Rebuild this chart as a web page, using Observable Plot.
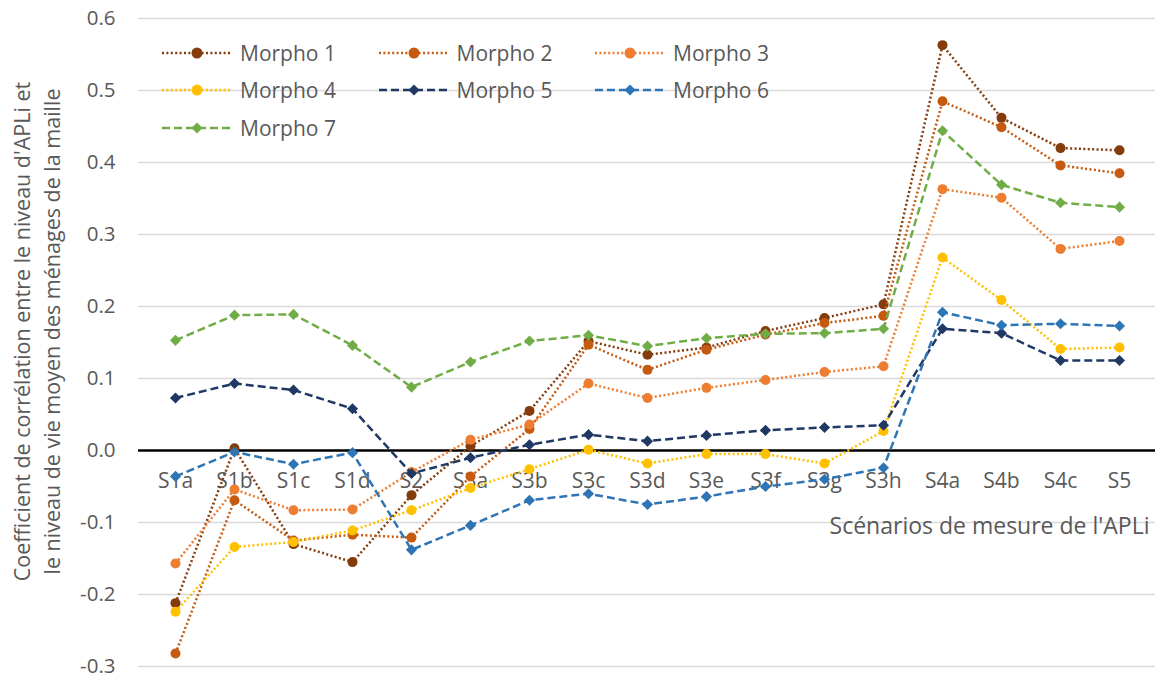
<!DOCTYPE html>
<html>
<head>
<meta charset="utf-8">
<script src="https://cdn.jsdelivr.net/npm/d3@7"></script>
<script src="https://cdn.jsdelivr.net/npm/@observablehq/plot@0.6"></script>
<style>
  body { margin: 0; background: #fff; }
  #wrap { position: relative; width: 1160px; height: 675px; font-family: "Open Sans", sans-serif; }
  #legend { position: absolute; left: 162px; top: 34px; display: grid; grid-template-columns: 216.5px 216.5px 216.5px; grid-auto-rows: 37.5px; }
  .item { display: flex; align-items: center; height: 37.5px; color: #595959; font-size: 21px; }
  .item svg { margin-right: 8px; flex: none; }
</style>
</head>
<body>
<div id="wrap"><div id="legend"></div></div>
<script>
const categories = ["S1a","S1b","S1c","S1d","S2","S3a","S3b","S3c","S3d","S3e","S3f","S3g","S3h","S4a","S4b","S4c","S5"];
const seriesNames = ["Morpho 1","Morpho 2","Morpho 3","Morpho 4","Morpho 5","Morpho 6","Morpho 7"];
const morpho1 = [-0.212, 0.003, -0.130, -0.155, -0.062, 0.006, 0.055, 0.152, 0.133, 0.143, 0.166, 0.184, 0.203, 0.563, 0.462, 0.420, 0.417];
const morpho2 = [-0.282, -0.069, -0.125, -0.117, -0.121, -0.036, 0.030, 0.147, 0.112, 0.140, 0.161, 0.177, 0.187, 0.485, 0.449, 0.396, 0.385];
const morpho3 = [-0.157, -0.054, -0.083, -0.082, -0.030, 0.015, 0.036, 0.093, 0.073, 0.087, 0.098, 0.109, 0.117, 0.363, 0.351, 0.280, 0.291];
const morpho4 = [-0.224, -0.134, -0.127, -0.111, -0.083, -0.052, -0.026, 0.001, -0.018, -0.005, -0.005, -0.018, 0.027, 0.268, 0.209, 0.141, 0.143];
const morpho5 = [0.073, 0.093, 0.084, 0.058, -0.032, -0.010, 0.008, 0.022, 0.013, 0.021, 0.028, 0.032, 0.035, 0.169, 0.163, 0.125, 0.125];
const morpho6 = [-0.036, -0.002, -0.019, -0.003, -0.138, -0.104, -0.069, -0.060, -0.075, -0.064, -0.050, -0.040, -0.024, 0.192, 0.174, 0.176, 0.173];
const morpho7 = [0.153, 0.188, 0.189, 0.146, 0.088, 0.123, 0.152, 0.160, 0.145, 0.156, 0.162, 0.163, 0.169, 0.444, 0.369, 0.344, 0.338];
const yTicks = [-0.3, -0.2, -0.1, 0.0, 0.1, 0.2, 0.3, 0.4, 0.5, 0.6];
const xTitle = "Scénarios de mesure de l'APLi";
const yTitle = "Coefficient de corrélation entre le niveau d'APLi et\nle niveau de vie moyen des ménages de la maille";

const allValues = [morpho1, morpho2, morpho3, morpho4, morpho5, morpho6, morpho7];
const colors = ["#843C0C", "#C55A11", "#ED7D31", "#FFC000", "#1F3864", "#2E75B6", "#70AD47"];
const dotted = "2 2.4", dashed = "8 4";
const styles = seriesNames.map((name, i) => ({
  name, color: colors[i],
  dash: i < 4 ? dotted : dashed,
  symbol: i < 4 ? "circle" : "diamond2",
  r: 5
}));

const table = seriesNames.flatMap((name, i) => categories.map((cat, j) => ({series: name, cat, v: allValues[i][j]})));

const seriesMarks = styles.flatMap(s => {
  const d = table.filter(t => t.series === s.name);
  return [
    Plot.line(d, {x: "cat", y: "v", stroke: s.color, strokeWidth: 2.5, strokeDasharray: s.dash, strokeLinecap: "butt", strokeLinejoin: "round"}),
    Plot.dot(d, {x: "cat", y: "v", fill: s.color, symbol: s.symbol, r: s.r, stroke: "none"})
  ];
});

const chart = Plot.plot({
  width: 1160, height: 675,
  marginTop: 18, marginBottom: 9, marginLeft: 138, marginRight: 5,
  style: {fontFamily: "Open Sans, sans-serif", fontSize: "21px", color: "#595959", background: "transparent"},
  x: {type: "point", domain: categories, padding: 0.5, axis: null},
  y: {domain: [-0.3, 0.6], axis: null},
  marks: [
    Plot.ruleY(yTicks.filter(t => t !== 0), {stroke: "#d9d9d9", strokeWidth: 1.5}),
    Plot.axisY(yTicks, {tickSize: 0, tickPadding: 23, tickFormat: d => d.toFixed(1), fill: "#595959", fontSize: 20.5, label: null}),
    Plot.text([xTitle], {x: () => "S5", y: () => -0.1, text: d => d, textAnchor: "end", dx: 30, dy: 4, fill: "#595959", fontSize: 23}),
    Plot.text([yTitle], {frameAnchor: "left", text: d => d, rotate: -90, textAnchor: "middle", dx: -103, dy: -11, lineHeight: 1.4, fill: "#595959", fontSize: 21.5}),
    Plot.ruleY([0], {stroke: "#000", strokeWidth: 2.5}),
    Plot.text(categories, {x: d => d, y: () => 0, text: d => d, dy: 31, fill: "#595959", fontSize: 21}),
    ...seriesMarks
  ]
});
document.getElementById("wrap").prepend(chart);

const legend = d3.select("#legend");
for (const s of styles) {
  const item = legend.append("div").attr("class", "item");
  const svg = item.append("svg").attr("width", 70).attr("height", 20);
  svg.append("line").attr("x1", 0).attr("x2", 70).attr("y1", 10).attr("y2", 10)
    .attr("stroke", s.color).attr("stroke-width", 2.5).attr("stroke-dasharray", s.dash);
  if (s.symbol === "circle") {
    svg.append("circle").attr("cx", 35).attr("cy", 10).attr("r", 5.5).attr("fill", s.color);
  } else {
    svg.append("path").attr("d", d3.symbol(d3.symbolDiamond2, Math.PI * 25)()).attr("transform", "translate(35,10)").attr("fill", s.color);
  }
  item.append("span").text(s.name);
}
</script>
</body>
</html>
